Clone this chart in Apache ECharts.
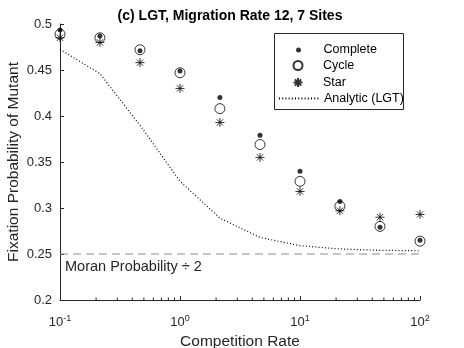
<!DOCTYPE html>
<html>
<head>
<meta charset="utf-8">
<script src="https://cdn.jsdelivr.net/npm/echarts@6/dist/echarts.min.js"></script>
<style>
html, body { margin: 0; padding: 0; background: #fff; }
#main { width: 464px; height: 348px; }
</style>
</head>
<body>
<div id="main"></div>
<script>
// competition rates (logspace -1..2, 10 points)
var rates = [0.1, 0.215, 0.464, 1, 2.15, 4.64, 10, 21.5, 46.4, 100];
var complete = [0.4935, 0.487, 0.471, 0.449, 0.420, 0.379, 0.340, 0.307, 0.279, 0.265];
var cycle    = [0.489, 0.485, 0.472, 0.447, 0.408, 0.369, 0.329, 0.302, 0.280, 0.264];
var star     = [0.485, 0.480, 0.458, 0.430, 0.393, 0.355, 0.318, 0.297, 0.290, 0.293];
var analytic = [0.4725, 0.446, 0.390, 0.329, 0.289, 0.268, 0.259, 0.2555, 0.254, 0.2535];
var moranHalf = 0.25;
var minorTicks = [0.2, 0.3, 0.4, 0.5, 0.6, 0.7, 0.8, 0.9, 2, 3, 4, 5, 6, 7, 8, 9, 20, 30, 40, 50, 60, 70, 80, 90];

var txt = '#262626';
var font = 'Liberation Sans, Arial, sans-serif';
var starPath = 'path://M0,-1L0,1M-1,0L1,0M-0.7,-0.7L0.7,0.7M-0.7,0.7L0.7,-0.7';

function pairs(ys) {
    return rates.map(function (x, i) { return [x, ys[i]]; });
}

// one legend per entry so each icon can have its own size
function legendItem(name, left, centerY, h, extra) {
    var item = { name: name };
    if (extra) item.itemStyle = extra;
    return {
        left: left, top: centerY - h / 2, padding: 0,
        itemWidth: 40, itemHeight: h,
        textStyle: { fontFamily: font, fontSize: 12.5, color: '#000' },
        data: [item]
    };
}

var myChart = echarts.init(document.getElementById('main'));

var option = {
    animation: false,
    textStyle: { fontFamily: font, color: txt },
    title: {
        text: '(c) LGT, Migration Rate 12, 7 Sites',
        left: 225, top: 4, textAlign: 'center',
        textStyle: { fontFamily: font, fontSize: 14, fontWeight: 'bold', color: '#000' }
    },
    legend: [
        legendItem('Complete', 296, 46, 5),
        legendItem('Cycle', 291, 63, 9),
        legendItem('Star', 291, 80, 9),
        legendItem('Analytic (LGT)', 278, 97, 10, { color: 'rgba(0,0,0,0)', borderWidth: 0 })
    ],
    grid: { left: 60, right: 44, top: 24, bottom: 48, outerBoundsMode: 'none' },
    xAxis: {
        type: 'log', logBase: 10, min: 0.1, max: 100,
        name: 'Competition Rate', nameLocation: 'middle', nameGap: 32,
        nameTextStyle: { fontSize: 15.5, color: txt },
        axisLine: { lineStyle: { color: txt } },
        axisTick: { inside: true, length: 4, lineStyle: { color: txt } },
        splitLine: { show: false },
        axisLabel: {
            margin: 14, color: txt,
            formatter: function (v) {
                var e = Math.round(Math.log(v) / Math.LN10);
                return '{b|10}{s|' + e + '}';
            },
            rich: {
                b: { fontSize: 13, color: txt, fontFamily: font },
                s: { fontSize: 9, color: txt, fontFamily: font, padding: [0, 0, 8, 0] }
            }
        }
    },
    yAxis: {
        type: 'value', min: 0.2, max: 0.5, interval: 0.05,
        name: 'Fixation Probability of Mutant', nameLocation: 'middle', nameGap: 38,
        nameMoveOverlap: false,
        nameTextStyle: { fontSize: 15.5, color: txt },
        axisLine: { show: true, lineStyle: { color: txt } },
        axisTick: { show: true, inside: true, length: 4, lineStyle: { color: txt } },
        splitLine: { show: false },
        axisLabel: { fontSize: 13, color: txt, margin: 8 }
    },
    graphic: [
        {
            type: 'rect', left: 274, top: 33, z: -1,
            shape: { width: 129, height: 76 },
            style: { fill: '#fff', stroke: txt, lineWidth: 1 }
        },
        {
            type: 'text', left: 65, top: 259,
            style: { text: 'Moran Probability \u00f7 2', fontSize: 14.5, fontFamily: font, fill: txt }
        }
    ],
    series: [
        {
            name: 'moran', type: 'line', silent: true, symbol: 'none',
            data: [[0.1, moranHalf], [100, moranHalf]],
            lineStyle: { color: '#8c8c8c', width: 1, type: [8, 5] }, z: 1
        },
        {
            name: 'Analytic (LGT)', type: 'line', symbol: 'none',
            data: pairs(analytic),
            lineStyle: { color: '#000', width: 1.2, type: [1, 2.2] }, itemStyle: { color: '#000' }, z: 2
        },
        {
            name: 'Star', type: 'scatter', symbol: starPath, symbolSize: 9,
            data: pairs(star),
            itemStyle: { color: 'none', borderColor: '#000', borderWidth: 1 }, z: 3
        },
        {
            name: 'Cycle', type: 'scatter', symbol: 'circle', symbolSize: 10,
            data: pairs(cycle),
            itemStyle: { color: 'none', borderColor: '#000', borderWidth: 1 }, z: 4
        },
        {
            name: 'Complete', type: 'scatter', symbol: 'circle', symbolSize: 5,
            data: pairs(complete),
            itemStyle: { color: '#000' }, z: 5
        },
        {
            name: 'minor', type: 'custom', silent: true,
            data: minorTicks.map(function (v) { return [v, 0.2]; }),
            renderItem: function (params, api) {
                var p = api.coord([api.value(0), api.value(1)]);
                return {
                    type: 'line',
                    shape: { x1: p[0], y1: p[1], x2: p[0], y2: p[1] - 2.5 },
                    style: { stroke: txt, lineWidth: 1 }
                };
            }, z: 1
        }
    ]
};

myChart.setOption(option);
</script>
</body>
</html>
